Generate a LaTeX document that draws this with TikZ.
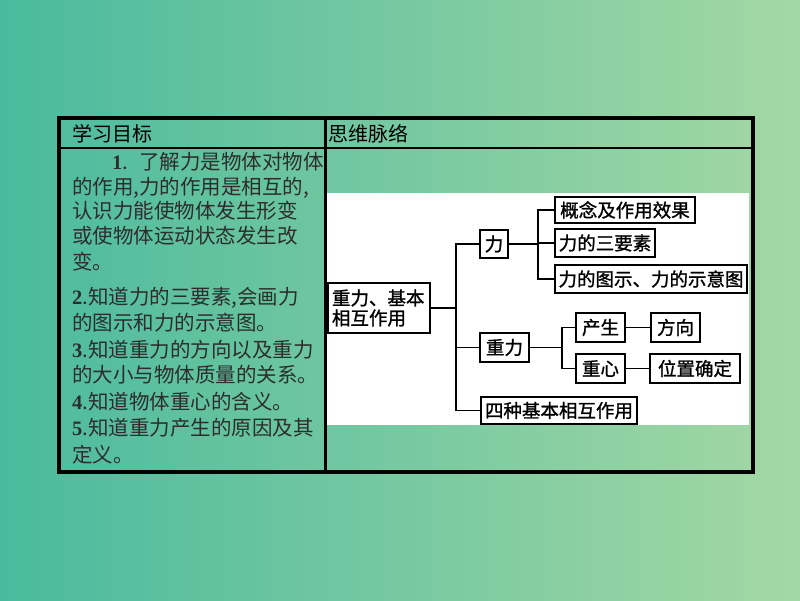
\documentclass[tikz,border=0pt]{standalone}
\usepackage{fontspec}
\setmainfont{Liberation Serif}
\newfontfamily\cjk{Noto Sans CJK SC}
\newfontfamily\cjkm{Noto Sans CJK SC}[FakeBold=1.2]
\newfontfamily\num{Liberation Serif}
\definecolor{bgL}{RGB}{74,186,158}
\definecolor{bgR}{RGB}{164,216,164}
\definecolor{txt}{RGB}{45,45,45}
\newcommand{\nb}[1]{{\num\bfseries #1}}
\begin{document}
\begin{tikzpicture}[x=1pt,y=-1pt,
  box/.style={draw=black,line width=1.8pt,fill=white,inner sep=0pt,align=center,
    font=\cjkm\fontsize{18.5}{20}\selectfont},
  conn/.style={line width=1.8pt},
  ltext/.style={anchor=base west,inner sep=0pt,text=txt,font=\cjk\fontsize{20.5}{24}\selectfont},
  htext/.style={anchor=base west,inner sep=0pt,text=black,font=\cjk\fontsize{20}{24}\selectfont}]
\useasboundingbox (0,0) rectangle (800,600);
\shade[left color=bgL,right color=bgR] (0,0) rectangle (800,600);
\fill[white] (327,193) rectangle (749,425);
% table
\draw[line width=4pt] (58.5,117.5) rectangle (752.5,472);
\draw[line width=2.5pt] (58.5,148) -- (752.5,148);
\draw[line width=2.5pt] (325.5,117.5) -- (325.5,472);
% headers
\node[htext] (h1) at (72,141.5) {学习目标};
\node[htext] (h2) at (328,141.5) {思维脉络};
% left column text
\node[ltext] (t1) at (112,169.5) {\nb{1}.\hspace{11pt}了解力是物体对物体};
\node[ltext] (t2) at (72,194.5) {的作用,力的作用是相互的,};
\node[ltext] (t3) at (72,218.5) {认识力能使物体发生形变};
\node[ltext] (t4) at (72,243.5) {或使物体运动状态发生改};
\node[ltext] (t5) at (72,269) {变。};
\node[ltext] (t6) at (72,304.5) {\nb{2}.知道力的三要素,会画力};
\node[ltext] (t7) at (72,330.5) {的图示和力的示意图。};
\node[ltext] (t8) at (72,357.5) {\nb{3}.知道重力的方向以及重力};
\node[ltext] (t9) at (72,382.5) {的大小与物体质量的关系。};
\node[ltext] (t10) at (72,409.5) {\nb{4}.知道物体重心的含义。};
\node[ltext] (t11) at (72,435.5) {\nb{5}.知道重力产生的原因及其};
\node[ltext] (t12) at (72,462.5) {定义。};
% diagram nodes
\node[box,minimum width=102pt,minimum height=50pt,text width=94pt,align=left] (root) at (379,308) {重力、基本\\相互作用};
\node[box,minimum width=28pt,minimum height=28pt] (li) at (494,244) {力};
\node[box,minimum width=140pt,minimum height=26pt] (c1) at (625,210) {概念及作用效果};
\node[box,minimum width=100pt,minimum height=28pt] (c2) at (605,243) {力的三要素};
\node[box,minimum width=192pt,minimum height=28pt] (c3) at (651,279) {力的图示、力的示意图};
\node[box,minimum width=49pt,minimum height=29pt] (zl) at (504.5,347.5) {重力};
\node[box,minimum width=49pt,minimum height=29pt] (cs) at (600.5,327.5) {产生};
\node[box,minimum width=49pt,minimum height=29pt] (fx) at (675.5,327.5) {方向};
\node[box,minimum width=49pt,minimum height=29pt] (zx) at (600.5,368.5) {重心};
\node[box,minimum width=90pt,minimum height=29pt] (wz) at (695,368.5) {位置确定};
\node[box,minimum width=156pt,minimum height=27pt] (sz) at (559,410.5) {四种基本相互作用};
% connectors
\coordinate (b1) at (456,0);
\coordinate (b2) at (538,0);
\coordinate (b3) at (562,0);
\draw[conn] (root.east) -- (root.east -| b1);
\draw[conn] (li.west) -| (b1 |- sz.west) -- (sz.west);
\draw[conn] (zl.west) -- (zl.west -| b1);
\draw[conn] (li.east) -- (li.east -| b2);
\draw[conn] (c1.west) -| (b2 |- c3.west) -- (c3.west);
\draw[conn] (c2.west) -- (c2.west -| b2);
\draw[conn] (zl.east) -- (zl.east -| b3);
\draw[conn] (cs.west) -| (b3 |- zx.west) -- (zx.west);
\draw[conn] (cs.east) -- (fx.west);
\draw[conn] (zx.east) -- (wz.west);
\end{tikzpicture}
\end{document}
